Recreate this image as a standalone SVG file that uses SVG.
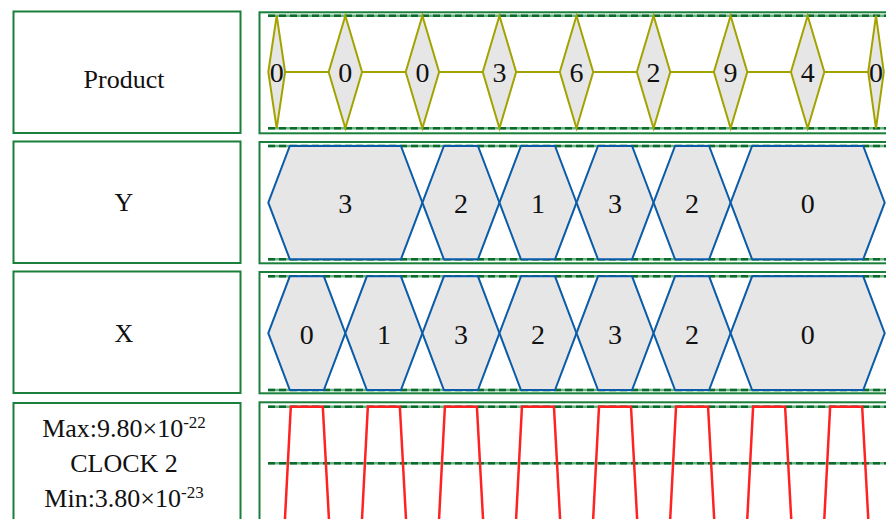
<svg xmlns="http://www.w3.org/2000/svg" width="886" height="519" viewBox="0 0 886 519">
<style>
.box{fill:#fff;stroke:#1a7f3a;stroke-width:2}
.base{stroke:#6cb383;stroke-width:2.4;fill:none}
.dsh{stroke:#0b6b2c;stroke-width:2.4;stroke-dasharray:7 4;fill:none}
.dia{fill:#e6e6e6;stroke:#a3a300;stroke-width:2}
.hex{fill:#e6e6e6;stroke:#0a5ca8;stroke-width:2}
.wire{stroke:#a3a300;stroke-width:2;fill:none}
.clk{fill:none;stroke:#ff2222;stroke-width:2.5;stroke-linejoin:miter}
text{font-family:"Liberation Serif","Times New Roman",serif;fill:#111;text-anchor:middle}
.lt{font-size:26px}
.vt{font-size:28px}
</style>
<defs>
<g id="guides">
<line class="base" x1="268" y1="0" x2="886" y2="0"/>
<line class="dsh" x1="268" y1="0" x2="886" y2="0"/>
</g>
</defs>

<!-- label boxes -->
<g id="label-product"><rect class="box" x="13.5" y="11.5" width="227" height="121.5"/><text class="lt" x="124" y="88">Product</text></g>
<g id="label-y"><rect class="box" x="13.5" y="141.5" width="227" height="121.5"/><text class="lt" x="124" y="211">Y</text></g>
<g id="label-x"><rect class="box" x="13.5" y="271.5" width="227" height="121.5"/><text class="lt" x="124" y="342">X</text></g>
<g id="label-clock"><rect class="box" x="13.5" y="403" width="227" height="130"/>
<text class="lt" x="124" y="436.7">Max:9.80×10<tspan font-size="17" dy="-9">-22</tspan></text>
<text class="lt" x="124" y="472.3">CLOCK 2</text>
<text class="lt" x="124" y="506.7">Min:3.80×10<tspan font-size="17" dy="-9">-23</tspan></text>
</g>

<!-- panels -->
<g id="panels">
<rect class="box" x="259.5" y="12.3" width="640" height="121"/>
<rect class="box" x="259.5" y="142" width="640" height="121.3"/>
<rect class="box" x="259.5" y="272" width="640" height="121.3"/>
<rect class="box" x="259.5" y="402.3" width="640" height="130"/>
<use href="#guides" y="15.7"/>
<use href="#guides" y="128.3"/>
<use href="#guides" y="146"/>
<use href="#guides" y="259.3"/>
<use href="#guides" y="276.3"/>
<use href="#guides" y="390"/>
<use href="#guides" y="406.7"/>
<use href="#guides" y="463.3"/>
</g>

<!-- connectors between product diamonds -->
<g id="connectors">
<line class="wire" x1="285.1" y1="72" x2="328.65" y2="72"/>
<line class="wire" x1="362.05" y1="72" x2="405.7" y2="72"/>
<line class="wire" x1="439.1" y1="72" x2="482.75" y2="72"/>
<line class="wire" x1="516.15" y1="72" x2="559.8" y2="72"/>
<line class="wire" x1="593.2" y1="72" x2="636.85" y2="72"/>
<line class="wire" x1="670.25" y1="72" x2="713.9" y2="72"/>
<line class="wire" x1="747.3" y1="72" x2="790.95" y2="72"/>
<line class="wire" x1="824.35" y1="72" x2="868.2" y2="72"/>
</g>

<!-- product diamonds -->
<g id="p0"><polygon class="dia" points="276.7,15.7 285.1,72 276.7,128.3 268.3,72"/><text class="vt" x="276.7" y="82">0</text></g>
<g id="p1"><polygon class="dia" points="345.35,15.7 362.05,72 345.35,128.3 328.65,72"/><text class="vt" x="345.35" y="82">0</text></g>
<g id="p2"><polygon class="dia" points="422.4,15.7 439.1,72 422.4,128.3 405.7,72"/><text class="vt" x="422.4" y="82">0</text></g>
<g id="p3"><polygon class="dia" points="499.45,15.7 516.15,72 499.45,128.3 482.75,72"/><text class="vt" x="499.45" y="82">3</text></g>
<g id="p4"><polygon class="dia" points="576.5,15.7 593.2,72 576.5,128.3 559.8,72"/><text class="vt" x="576.5" y="82">6</text></g>
<g id="p5"><polygon class="dia" points="653.55,15.7 670.25,72 653.55,128.3 636.85,72"/><text class="vt" x="653.55" y="82">2</text></g>
<g id="p6"><polygon class="dia" points="730.6,15.7 747.3,72 730.6,128.3 713.9,72"/><text class="vt" x="730.6" y="82">9</text></g>
<g id="p7"><polygon class="dia" points="807.65,15.7 824.35,72 807.65,128.3 790.95,72"/><text class="vt" x="807.65" y="82">4</text></g>
<g id="p8"><polygon class="dia" points="876,15.7 883.8,72 876,128.3 868.2,72"/><text class="vt" x="876" y="82">0</text></g>

<!-- Y hexagons -->
<g id="y0"><polygon class="hex" points="268.3,202.7 289.8,146 400.9,146 422.4,202.7 400.9,259.3 289.8,259.3"/><text class="vt" x="345.35" y="212.5">3</text></g>
<g id="y1"><polygon class="hex" points="422.4,202.7 443.9,146 477.95,146 499.45,202.7 477.95,259.3 443.9,259.3"/><text class="vt" x="460.9" y="212.5">2</text></g>
<g id="y2"><polygon class="hex" points="499.45,202.7 520.95,146 555,146 576.5,202.7 555,259.3 520.95,259.3"/><text class="vt" x="538" y="212.5">1</text></g>
<g id="y3"><polygon class="hex" points="576.5,202.7 598,146 632.05,146 653.55,202.7 632.05,259.3 598,259.3"/><text class="vt" x="615" y="212.5">3</text></g>
<g id="y4"><polygon class="hex" points="653.55,202.7 675.05,146 709.1,146 730.6,202.7 709.1,259.3 675.05,259.3"/><text class="vt" x="692.1" y="212.5">2</text></g>
<g id="y5"><polygon class="hex" points="730.6,202.7 752.1,146 863.2,146 884.7,202.7 863.2,259.3 752.1,259.3"/><text class="vt" x="807.65" y="212.5">0</text></g>

<!-- X hexagons -->
<g id="x0"><polygon class="hex" points="268.3,333.2 289.8,276.3 323.85,276.3 345.35,333.2 323.85,390 289.8,390"/><text class="vt" x="306.8" y="343.5">0</text></g>
<g id="x1"><polygon class="hex" points="345.35,333.2 366.85,276.3 400.9,276.3 422.4,333.2 400.9,390 366.85,390"/><text class="vt" x="383.9" y="343.5">1</text></g>
<g id="x2"><polygon class="hex" points="422.4,333.2 443.9,276.3 477.95,276.3 499.45,333.2 477.95,390 443.9,390"/><text class="vt" x="460.9" y="343.5">3</text></g>
<g id="x3"><polygon class="hex" points="499.45,333.2 520.95,276.3 555,276.3 576.5,333.2 555,390 520.95,390"/><text class="vt" x="538" y="343.5">2</text></g>
<g id="x4"><polygon class="hex" points="576.5,333.2 598,276.3 632.05,276.3 653.55,333.2 632.05,390 598,390"/><text class="vt" x="615" y="343.5">3</text></g>
<g id="x5"><polygon class="hex" points="653.55,333.2 675.05,276.3 709.1,276.3 730.6,333.2 709.1,390 675.05,390"/><text class="vt" x="692.1" y="343.5">2</text></g>
<g id="x6"><polygon class="hex" points="730.6,333.2 752.1,276.3 863.2,276.3 884.7,333.2 863.2,390 752.1,390"/><text class="vt" x="807.65" y="343.5">0</text></g>

<!-- clock -->
<g id="clock">
<polyline class="clk" points="268.3,522 284.8,522 290.8,406.7 322.8,406.7 329.1,522 361.85,522 367.85,406.7 399.85,406.7 406.15,522 438.9,522 444.9,406.7 476.9,406.7 483.2,522 515.95,522 521.95,406.7 553.95,406.7 560.25,522 593,522 599,406.7 631,406.7 637.3,522 670.05,522 676.05,406.7 708.05,406.7 714.35,522 747.1,522 753.1,406.7 785.1,406.7 791.4,522 824.15,522 830.15,406.7 862.15,406.7 868.45,522 890,522"/>
</g>
</svg>
